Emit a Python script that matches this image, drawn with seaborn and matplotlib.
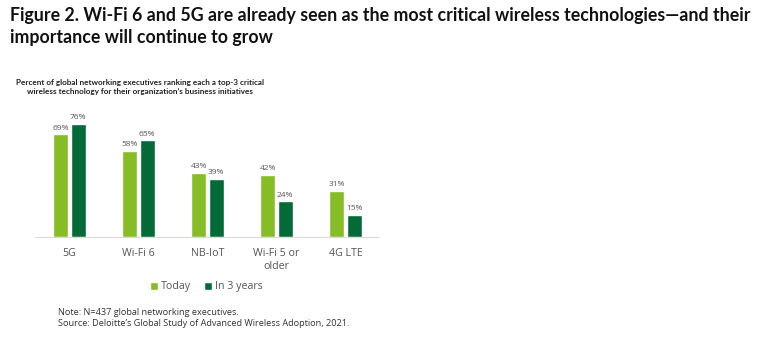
import pandas as pd
import seaborn as sns
import matplotlib.pyplot as plt

# Data
categories = ['5G', 'Wi-Fi 6', 'NB-IoT', 'Wi-Fi 5 or\nolder', '4G LTE']
today = [69, 58, 43, 42, 31]
in_3_years = [76, 65, 39, 24, 15]
series_names = ['Today', 'In 3 years']

df = pd.DataFrame({
    'technology': categories * 2,
    'period': [series_names[0]] * len(categories) + [series_names[1]] * len(categories),
    'pct': today + in_3_years,
})

light_green = '#86BC25'
dark_green = '#046A38'
grey = '#555555'
narrow = ['Lato', 'DejaVu Sans']
body = ['Open Sans', 'DejaVu Sans']

sns.set_style('white')
plt.rcParams['font.family'] = body

W, H = 770, 350
fig = plt.figure(figsize=(W / 100, H / 100), dpi=100)
ax = fig.add_axes([35 / W, (H - 237) / H, (378 - 35) / W, (237 - 115) / H])

sns.barplot(data=df, x='technology', y='pct', hue='period', order=categories,
            hue_order=series_names, palette=[light_green, dark_green],
            width=0.5, gap=0.13, saturation=1, ax=ax, legend=True)

for cont in ax.containers:
    ax.bar_label(cont, fmt='%d%%', padding=2, fontsize=6, color=grey)

ax.set_xlim(-0.5, 4.47)
ax.set_ylim(0, 82)
ax.set_xlabel('')
ax.set_ylabel('')
ax.set_yticks([])
for s in ['top', 'left', 'right']:
    ax.spines[s].set_visible(False)
ax.spines['bottom'].set_color('#d9d9d9')
ax.spines['bottom'].set_linewidth(0.8)
ax.tick_params(axis='x', length=0, pad=8, labelsize=7.7, labelcolor=grey)

leg = ax.legend(loc='center', bbox_to_anchor=(0.5, (237 - 287) / 122), ncol=2,
                frameon=False, fontsize=7.7, handlelength=0.7, handleheight=0.7,
                handletextpad=0.3, columnspacing=1.2)
for t in leg.get_texts():
    t.set_color(grey)

fig.text(10 / W, 1 - 15 / H, 'Figure 2. Wi-Fi 6 and 5G are already seen as the most critical wireless technologies\u2014and their',
         family=narrow, fontweight='bold', fontsize=12.8, va='center', ha='left', color='#111111')
fig.text(10 / W, 1 - 38 / H, 'importance will continue to grow',
         family=narrow, fontweight='bold', fontsize=12.8, va='center', ha='left', color='#111111')
fig.text(140 / W, 1 - 87 / H,
         'Percent of global networking executives ranking each a top-3 critical\nwireless technology for their organization\u2019s business initiatives',
         family=narrow, fontweight='bold', fontsize=5.9, va='center', ha='center',
         color='#222222', linespacing=1.35)
fig.text(58 / W, 1 - 318 / H,
         'Note: N=437 global networking executives.\nSource: Deloitte\u2019s Global Study of Advanced Wireless Adoption, 2021.',
         fontsize=6.6, va='center', ha='left', color='#333333', linespacing=1.2)

fig.savefig('out.png', dpi=100)
